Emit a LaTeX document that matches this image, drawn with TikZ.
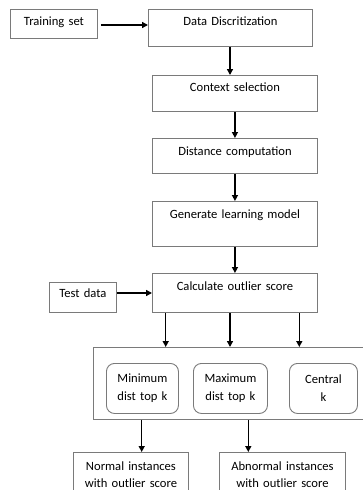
\documentclass[tikz,border=0pt]{standalone}
\usepackage{fontspec}
\setmainfont{Carlito}
\usetikzlibrary{arrows.meta}
\definecolor{boxline}{HTML}{7A7A7A}
\tikzset{
  box/.style={draw=boxline, line width=0.9pt, inner xsep=0pt, inner ysep=0pt, text=black, font=\fontsize{12.6}{18}\selectfont, align=center},
  rbox/.style={box, rounded corners=8pt, inner sep=0pt},
  arr/.style={line width=1.4pt, -{Triangle[length=6pt,width=6pt]}},
}
\begin{document}
\begin{tikzpicture}[x=1pt,y=-1pt]
\useasboundingbox (0,0) rectangle (363,490);
\clip (0,0) rectangle (363,490);
% top boxes (text top-aligned)
\node[box, minimum width=87pt, text width=87pt, text height=16pt, text depth=13pt, anchor=north west] (train) at (10,9) {Training set};
\node[box, minimum width=164pt, text width=164pt, text height=16.5pt, text depth=20.5pt, anchor=north west] (dd) at (148,9) {Data Discritization};
\node[box, minimum width=165pt, text width=165pt, text height=16pt, text depth=20pt, anchor=north west] (cs) at (152,75) {Context selection};
\node[box, minimum width=165pt, text width=165pt, text height=17pt, text depth=18pt, anchor=north west] (dc) at (152,138) {Distance computation};
\node[box, minimum width=165pt, text width=165pt, text height=17pt, text depth=28pt, anchor=north west] (gl) at (152,201) {Generate learning model};
\node[box, minimum width=165pt, text width=165pt, text height=17pt, text depth=22pt, anchor=north west] (co) at (152,273) {Calculate outlier score};
\node[box, minimum width=67pt, text width=67pt, text height=15pt, text depth=15pt, anchor=north west] (td) at (49,282) {Test data};
% outer container
\node[box, minimum width=290pt, minimum height=72pt, anchor=north west] (outer) at (93,347) {};
\node[rbox, minimum width=72pt, minimum height=50pt, text width=72pt, anchor=north west] (mn) at (106,363) {Minimum\\dist top k};
\node[rbox, minimum width=74pt, minimum height=50pt, text width=74pt, anchor=north west] (mx) at (193,363) {Maximum\\dist top k};
\node[rbox, minimum width=68pt, minimum height=50pt, text width=68pt, anchor=north west] (ce) at (289,363) {Central\\k};
% bottom boxes
\node[box, minimum width=115pt, text width=115pt, text height=18pt, text depth=30pt, anchor=north west, font=\fontsize{12.6}{17.5}\selectfont] (nr) at (73,452) {Normal instances\\with outlier score};
\node[box, minimum width=126pt, text width=126pt, text height=18pt, text depth=30pt, anchor=north west, font=\fontsize{12.6}{17.5}\selectfont] (ab) at (219,452) {Abnormal instances\\with outlier score};
% connectors
\draw[arr] ([xshift=3pt]train.east |- 0,25) -- (dd.west |- 0,25);
\draw[arr] (dd.south -| 230,0) -- (cs.north -| 230,0);
\draw[arr] (cs.south) -- (dc.north);
\draw[arr] (dc.south) -- (gl.north);
\draw[arr] (gl.south) -- (co.north);
\draw[arr] (td.east |- 0,293) -- (co.west |- 0,293);
\draw[arr] (co.south -| 165.7,0) -- (outer.north -| 165.7,0);
\draw[arr] (co.south -| 230,0) -- (outer.north -| 230,0);
\draw[arr] (co.south -| 299.3,0) -- (outer.north -| 299.3,0);
\draw[arr] (outer.south -| 141.7,0) -- (nr.north -| 141.7,0);
\draw[arr] (outer.south -| 248.3,0) -- (ab.north -| 248.3,0);
\end{tikzpicture}
\end{document}
